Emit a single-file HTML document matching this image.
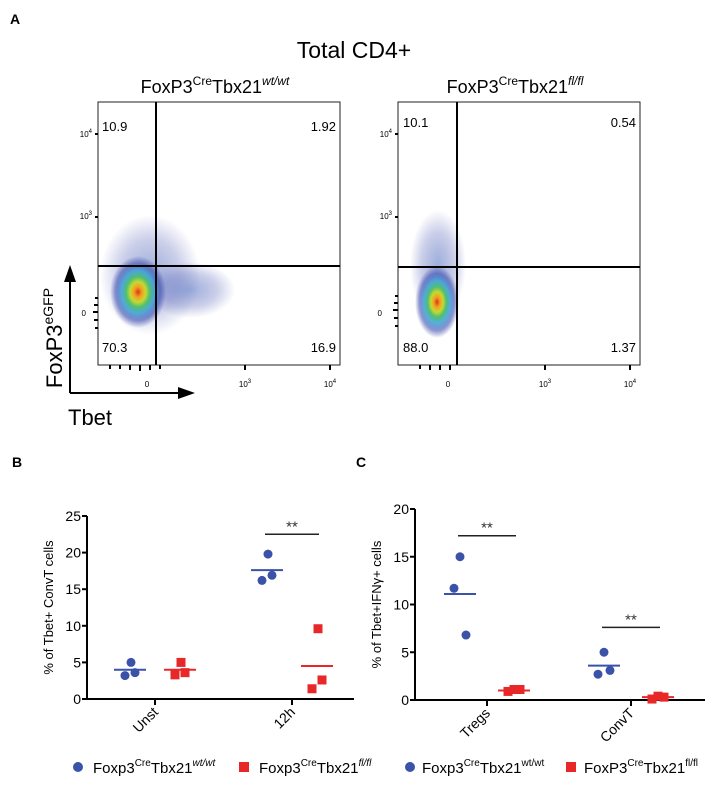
<!DOCTYPE html>
<html><head><meta charset="utf-8"><style>
body{margin:0;background:#fff;width:708px;height:786px;overflow:hidden;font-family:"Liberation Sans",sans-serif}
</style></head><body>
<svg width="708" height="786" viewBox="0 0 708 786" font-family="Liberation Sans, sans-serif">
<defs>
<radialGradient id="dens" cx="50%" cy="50%" r="50%">
<stop offset="0" stop-color="#e0301a"/><stop offset="0.14" stop-color="#f0a020"/><stop offset="0.28" stop-color="#c8d830"/><stop offset="0.42" stop-color="#50c070"/><stop offset="0.6" stop-color="#3aa0d8" stop-opacity="0.85"/><stop offset="0.8" stop-color="#3040a8" stop-opacity="0.55"/><stop offset="1" stop-color="#3040a8" stop-opacity="0"/>
</radialGradient>
<radialGradient id="sparse" cx="50%" cy="50%" r="50%">
<stop offset="0" stop-color="#3a60b8" stop-opacity="0.5"/><stop offset="0.6" stop-color="#3040a8" stop-opacity="0.25"/><stop offset="1" stop-color="#3040a8" stop-opacity="0"/>
</radialGradient>
</defs>
<text x="10" y="24" font-size="14" font-weight="bold">A</text>
<text x="354" y="58" font-size="23" text-anchor="middle">Total CD4+</text>
<text x="215" y="93" font-size="18" text-anchor="middle">FoxP3<tspan font-size="12" dy="-8">Cre</tspan><tspan dy="8">Tbx21</tspan><tspan font-size="12" dy="-8" font-style="italic">wt/wt</tspan></text>
<text x="515" y="93" font-size="18" text-anchor="middle">FoxP3<tspan font-size="12" dy="-8">Cre</tspan><tspan dy="8">Tbx21</tspan><tspan font-size="12" dy="-8" font-style="italic">fl/fl</tspan></text>

<g>
<ellipse cx="150" cy="275" rx="50" ry="60" fill="url(#sparse)"/>
<ellipse cx="190" cy="290" rx="45" ry="28" fill="url(#sparse)"/>
<ellipse cx="138" cy="292" rx="28" ry="36" fill="url(#dens)"/>
<rect x="98" y="102" width="242" height="263" fill="none" stroke="#222" stroke-width="1"/>
<line x1="156" y1="102" x2="156" y2="365" stroke="#000" stroke-width="2"/>
<line x1="98" y1="266" x2="340" y2="266" stroke="#000" stroke-width="2"/>
<text x="102" y="131" font-size="13">10.9</text><text x="336" y="131" font-size="13" text-anchor="end">1.92</text>
<text x="102" y="352" font-size="13">70.3</text><text x="336" y="352" font-size="13" text-anchor="end">16.9</text>
<text x="92" y="137" font-size="8" text-anchor="end">10<tspan dy="-4" font-size="6">4</tspan></text>
<text x="92" y="219" font-size="8" text-anchor="end">10<tspan dy="-4" font-size="6">3</tspan></text>
<text x="86" y="316" font-size="8" text-anchor="end">0</text>
<text x="147" y="387" font-size="8" text-anchor="middle">0</text>
<text x="245" y="387" font-size="8" text-anchor="middle">10<tspan dy="-4" font-size="6">3</tspan></text>
<text x="330" y="387" font-size="8" text-anchor="middle">10<tspan dy="-4" font-size="6">4</tspan></text>
<path d="M98 134h-3M98 217h-3M98 298h-3M98 305h-4M98 312h-5M98 320h-4M98 328h-3M110 365v4M120 365v4M130 365v5M140 365v6M150 365v5M160 365v4M245 365v5M330 365v5" stroke="#000" stroke-width="2"/>
</g>

<g>
<ellipse cx="438" cy="265" rx="28" ry="55" fill="url(#sparse)"/>
<ellipse cx="437" cy="302" rx="22" ry="36" fill="url(#dens)"/>
<rect x="398" y="102" width="242" height="263" fill="none" stroke="#222" stroke-width="1"/>
<line x1="457" y1="102" x2="457" y2="365" stroke="#000" stroke-width="2"/>
<line x1="398" y1="267" x2="640" y2="267" stroke="#000" stroke-width="2"/>
<text x="403" y="127" font-size="13">10.1</text><text x="636" y="127" font-size="13" text-anchor="end">0.54</text>
<text x="403" y="352" font-size="13">88.0</text><text x="636" y="352" font-size="13" text-anchor="end">1.37</text>
<text x="392" y="137" font-size="8" text-anchor="end">10<tspan dy="-4" font-size="6">4</tspan></text>
<text x="392" y="219" font-size="8" text-anchor="end">10<tspan dy="-4" font-size="6">3</tspan></text>
<text x="382" y="316" font-size="8" text-anchor="end">0</text>
<text x="448" y="387" font-size="8" text-anchor="middle">0</text>
<text x="545" y="387" font-size="8" text-anchor="middle">10<tspan dy="-4" font-size="6">3</tspan></text>
<text x="630" y="387" font-size="8" text-anchor="middle">10<tspan dy="-4" font-size="6">4</tspan></text>
<path d="M398 134h-3M398 217h-3M398 296h-3M398 303h-4M398 310h-5M398 318h-4M398 326h-3M420 365v4M430 365v5M440 365v5M450 365v5M545 365v5M630 365v5" stroke="#000" stroke-width="2"/>
</g>

<g>
<path d="M70 393V280M70 393H180" stroke="#000" stroke-width="2" fill="none"/>
<path d="M64 282L70 265L76 282Z M178 387L195 393L178 399Z" fill="#000"/>
<text transform="translate(62 338) rotate(-90)" font-size="22" text-anchor="middle">FoxP3<tspan font-size="14" dy="-9">eGFP</tspan></text>
<text x="68" y="425" font-size="22">Tbet</text>
</g>

<text x="12" y="467" font-size="14" font-weight="bold">B</text>
<text x="356" y="467" font-size="14" font-weight="bold">C</text>
<g id="chartB"></g>
<g id="chartC"></g>

<g>
<circle cx="78" cy="767" r="5" fill="#3a52a8"/>
<text x="93" y="773" font-size="15">Foxp3<tspan font-size="10" dy="-7">Cre</tspan><tspan dy="7">Tbx21</tspan><tspan font-size="10" dy="-7" font-style="italic">wt/wt</tspan></text>
<rect x="239" y="762" width="10" height="10" fill="#e82828"/>
<text x="259" y="773" font-size="15">Foxp3<tspan font-size="10" dy="-7">Cre</tspan><tspan dy="7">Tbx21</tspan><tspan font-size="10" dy="-7" font-style="italic">fl/fl</tspan></text>
</g>
<g>
<circle cx="410" cy="767" r="5" fill="#3a52a8"/>
<text x="422" y="773" font-size="15">Foxp3<tspan font-size="10" dy="-7">Cre</tspan><tspan dy="7">Tbx21</tspan><tspan font-size="10" dy="-7">wt/wt</tspan></text>
<rect x="566" y="762" width="10" height="10" fill="#e82828"/>
<text x="584" y="773" font-size="15">FoxP3<tspan font-size="10" dy="-7">Cre</tspan><tspan dy="7">Tbx21</tspan><tspan font-size="10" dy="-7">fl/fl</tspan></text>
</g>
</svg>
<script>
const bCategories = ["Unst", "12h"];
const bWt = [[5.0, 3.2, 3.6], [19.8, 16.2, 16.9]];
const bFl = [[5.0, 3.3, 3.6], [9.6, 1.4, 2.6]];
const bWtMean = [4.0, 17.6];
const bFlMean = [4.0, 4.5];
const bTicks = [0, 5, 10, 15, 20, 25];
const bSig = [null, 22.5];

const cCategories = ["Tregs", "ConvT"];
const cWt = [[15.0, 11.7, 6.8], [5.0, 2.7, 3.1]];
const cFl = [[1.1, 0.9, 1.1], [0.4, 0.1, 0.3]];
const cWtMean = [11.1, 3.6];
const cFlMean = [1.0, 0.3];
const cTicks = [0, 5, 10, 15, 20];
const cSig = [17.2, 7.6];

const NS = "http://www.w3.org/2000/svg";
function mk(parent, tag, attrs) {
  const e = document.createElementNS(NS, tag);
  for (const k in attrs) e.setAttribute(k, attrs[k]);
  parent.appendChild(e);
  return e;
}
function drawChart(g, cfg) {
  const y = v => cfg.y0 - (v - 0) / cfg.ymax * (cfg.y0 - cfg.ytop);
  const ax = mk(g, "path", {d: `M${cfg.x0} ${cfg.ytop}V${cfg.y0}H${cfg.xend}`, stroke: "#000", "stroke-width": 2, fill: "none"});
  
  
  cfg.ticks.forEach(t => {
    mk(g, "line", {x1: cfg.x0 - 5, x2: cfg.x0, y1: y(t), y2: y(t), stroke: "#000", "stroke-width": 2});
    const tl = mk(g, "text", {x: cfg.x0 - 6, y: y(t) + 5, "font-size": 14, "text-anchor": "end"});
    tl.textContent = t;
    
    
  });
  const yl = mk(g, "text", {transform: `translate(${cfg.x0 - 34} ${(cfg.y0 + cfg.ytop) / 2}) rotate(-90)`, "font-size": 13, "text-anchor": "middle"});
  yl.textContent = cfg.ylabel;
  
  
  cfg.cats.forEach((c, i) => {
    const cx = cfg.cx[i];
    mk(g, "line", {x1: cx, x2: cx, y1: cfg.y0, y2: cfg.y0 + 6, stroke: "#000", "stroke-width": 2});
    const lab = mk(g, "text", {transform: `translate(${cx + 4} ${cfg.y0 + 14}) rotate(-45)`, "font-size": 14, "text-anchor": "end"});
    lab.textContent = c;
    
    
    const bx = cx - cfg.off, rx = cx + cfg.off;
    cfg.wt[i].forEach((v, j) => {
      const p = mk(g, "circle", {cx: bx + cfg.jit[j], cy: y(v), r: 4.5, fill: "#3a52a8"});
      
      
    });
    cfg.fl[i].forEach((v, j) => {
      const p = mk(g, "rect", {x: rx + cfg.jit[j] - 4.5, y: y(v) - 4.5, width: 9, height: 9, fill: "#e82828"});
      
      
    });
    const m1 = mk(g, "line", {x1: bx - 16, x2: bx + 16, y1: y(cfg.wtMean[i]), y2: y(cfg.wtMean[i]), stroke: "#3a52a8", "stroke-width": 2});
    
    
    const m2 = mk(g, "line", {x1: rx - 16, x2: rx + 16, y1: y(cfg.flMean[i]), y2: y(cfg.flMean[i]), stroke: "#e82828", "stroke-width": 2});
    
    
    if (cfg.sig[i] !== null) {
      const s = mk(g, "line", {x1: bx - 2, x2: rx + 2, y1: y(cfg.sig[i]), y2: y(cfg.sig[i]), stroke: "#222", "stroke-width": 1.5});
      
      
      const st = mk(g, "text", {x: cx, y: y(cfg.sig[i]) - 3, "font-size": 15, "text-anchor": "middle", fill: "#333"});
      st.textContent = "**";
      
      
    }
  });
}
drawChart(document.getElementById("chartB"), {x0: 87, xend: 354, y0: 699, ytop: 516, ymax: 25, ticks: bTicks, cats: bCategories, cx: [155, 292], off: 25, jit: [1, -5, 5], wt: bWt, fl: bFl, wtMean: bWtMean, flMean: bFlMean, sig: bSig, ylabel: "% of Tbet+ ConvT cells"});
drawChart(document.getElementById("chartC"), {x0: 415, xend: 705, y0: 700, ytop: 509, ymax: 20, ticks: cTicks, cats: cCategories, cx: [487, 631], off: 27, jit: [0, -6, 6], wt: cWt, fl: cFl, wtMean: cWtMean, flMean: cFlMean, sig: cSig, ylabel: "% of Tbet+IFN\u03b3+ cells"});
</script>
</body></html>
